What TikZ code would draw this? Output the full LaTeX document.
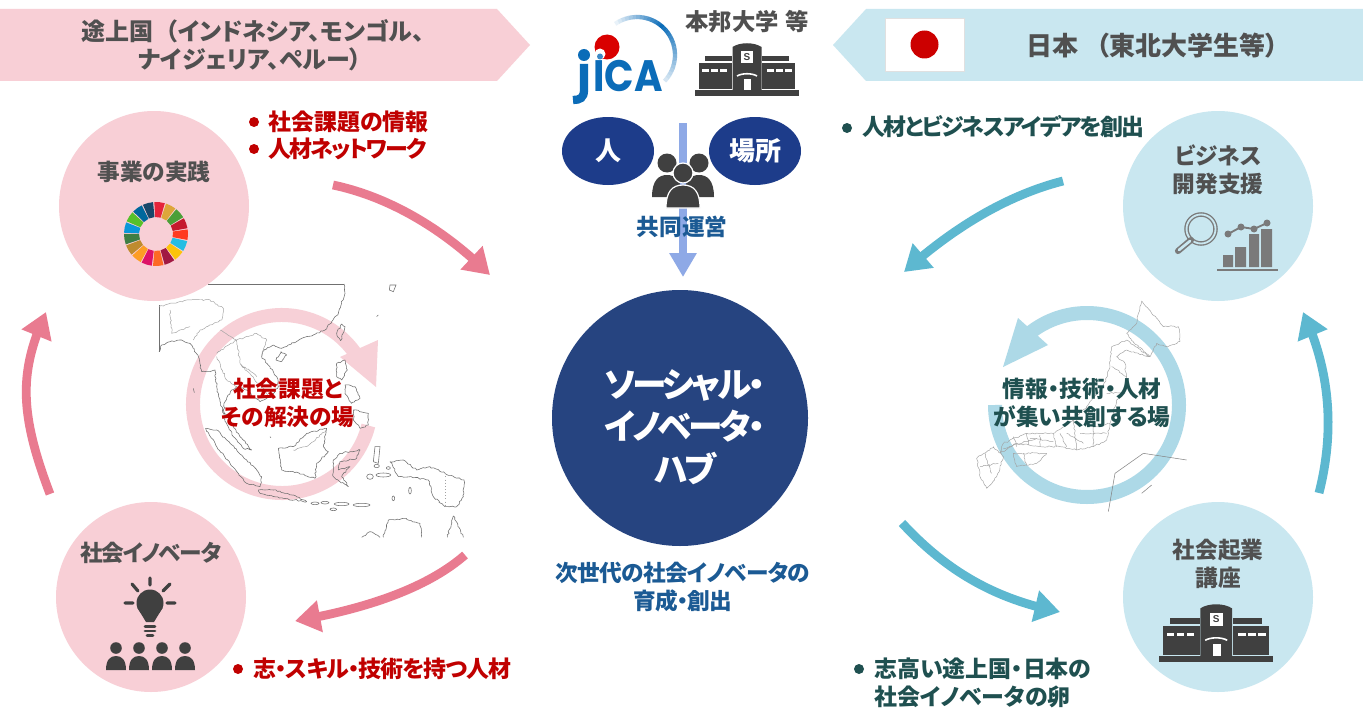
\documentclass[tikz,border=0pt]{standalone}
\usepackage{fontspec}
\setmainfont{Noto Sans CJK JP}[RawFeature={+palt}]
\newfontfamily\latn{Liberation Sans}
\newfontfamily\logof{Poppins}
\usetikzlibrary{arrows.meta,bending,shapes.geometric,decorations.pathmorphing}
\definecolor{pinkfill}{HTML}{F8CFD6}
\definecolor{bluefill}{HTML}{C9E7F0}
\definecolor{pinkarrow}{HTML}{E97B90}
\definecolor{tealarrow}{HTML}{5DB8D0}
\definecolor{pinkring}{HTML}{F7D0D7}
\definecolor{bluering}{HTML}{ADD9E7}
\definecolor{hubblue}{HTML}{264480}
\definecolor{ovalblue}{HTML}{1D3C8A}
\definecolor{downarrow}{HTML}{8EA9E6}
\definecolor{capblue}{HTML}{1B5A94}
\definecolor{redtxt}{HTML}{C00000}
\definecolor{tealtxt}{HTML}{1F5050}
\definecolor{graytxt}{HTML}{505050}
\definecolor{icon}{HTML}{404040}
\definecolor{icongray}{HTML}{7A7A7A}
\definecolor{mapline}{HTML}{707070}
\definecolor{jicablue}{HTML}{0B6CB8}
\newcommand{\tight}[1]{\addfontfeature{LetterSpace=#1}}
\tikzset{
 lab/.style={font=\fontsize{17}{21}\selectfont\bfseries,align=center,inner sep=0pt},
 big/.style={lab,font=\fontsize{18}{21}\selectfont\bfseries},
 mid/.style={lab,font=\fontsize{17.2}{21}\selectfont\bfseries,anchor=west,align=left},
 bul/.style={circle,inner sep=0pt,minimum size=7.5pt},
 curved/.style={line width=6.6pt},
 ringline/.style={line width=10.5pt},
 bigtip/.style={-{Triangle[length=19pt,width=23pt,flex]}},
 wob/.style={decorate,decoration={random steps,segment length=1.6pt,amplitude=.6pt}},
 mapst/.style={draw=mapline,line width=.42pt,line join=round,wob},
 mapfine/.style={draw=mapline!65,line width=.35pt,line join=round,wob},
 persona/.style={fill=icon,draw=white,line width=.9pt},
 campus/.pic={
  \fill[icon] (0,47.3) rectangle (104,53);
  \fill[icon] (4,20) rectangle (37,46);
  \fill[icon] (10,13) rectangle (37,18);
  \fill[icon] (67,20) rectangle (100,46);
  \fill[icon] (67,13) rectangle (94,18);
  \fill[icon] (37.5,47.3) -- (37.5,4) .. controls (45,-1) and (59,-1) .. (66.5,4) -- (66.5,47.3) -- cycle;
  \foreach \a in {7,16,25,72,81,90}{\fill[white] (\a,26) rectangle ++(7,3);}
  \fill[white] (46,8) rectangle (58,20);
  \fill[white] (49,36) rectangle (56,47.3);
  \draw[white,line width=1.2pt] (42,33) .. controls (47,30) and (57,30) .. (62,33);
  \node[icon,font=\latn\bfseries\fontsize{7.5}{8}\selectfont,inner sep=0pt] (-s) at (52,14) {S};
 }
}
\pgfmathsetseed{4242}
\begin{document}
\begin{tikzpicture}[x=0.75pt,y=-0.75pt]
\useasboundingbox (0,0) rectangle (1363,724);
\fill[white] (0,0) rectangle (1363,724);
% banners
\fill[pinkfill] (0,9) -- (497,9) -- (530,45) -- (497,81) -- (0,81) -- cycle;
\fill[bluefill] (1363,9) -- (866,9) -- (833,45) -- (866,81) -- (1363,81) -- cycle;
\node[big,graytxt] (bl) at (253,45) {途上国\hspace{9pt}（インドネシア、モンゴル、\\ナイジェリア、ペルー）\hspace*{4.5pt}};
\node[draw=black!12,fill=white,minimum width=59.25pt,minimum height=39.75pt,inner sep=0pt] (flag) at (924.5,44.5) {};
\fill[red!80!black] (flag.center) circle (14);
\node[big,graytxt,font=\fontsize{19.5}{21}\selectfont\bfseries] (br) at (1152.5,46) {日本\hspace{13pt}（東北大学生等）};

% rings
\coordinate (rl) at (282,404);
\coordinate (rr) at (1087,405);
\draw[pinkring,ringline] (rl) ++(14:89) arc[start angle=14,end angle=328,radius=89];
\fill[pinkring] (378,340) -- (340,357) -- (376,387) -- cycle;
\draw[bluering,ringline] (rr) ++(180:92) arc[start angle=180,end angle=-128,radius=92];
\fill[bluering] (1003,367) -- (1018,318) -- (1048,345) -- cycle;

% SE Asia map
\begin{scope}[shift={(40,100)},x=.25pt,y=-.25pt]
\draw[draw=mapline,line width=.42pt] (357,755) -- (357,615) (505,552) -- (912,552);
\draw[mapst] (912,552) -- (915,580) -- (905,610) -- (895,640) -- (875,665) -- (855,690) -- (820,705) -- (785,715) -- (745,735) -- (725,745) -- (700,735) -- (670,750) -- (665,770) -- (690,800) -- (710,830) -- (715,860) -- (690,890) -- (660,905) -- (640,890) -- (620,870) -- (590,860) -- (575,870) -- (555,905) -- (550,930) -- (575,970) -- (600,1010) -- (635,1050) -- (610,1045) -- (580,1010) -- (555,960) -- (540,900) -- (530,860) -- (525,810) -- (510,815) -- (485,815) -- (475,770) -- (450,730) -- (420,720) -- (390,725) -- (365,735) -- (357,755);
\draw[mapst] (723,755) -- (740,765) -- (725,785) -- (708,780) -- cycle;
\draw[mapst] (890,700) -- (905,672) -- (915,680) -- (902,722) -- cycle;
\draw[mapst] (890,790) -- (915,780) -- (922,810) -- (905,840) -- (890,830) -- cycle;
\draw[mapst] (940,930) -- (985,940) -- (985,975) -- (960,985) -- (940,960) -- cycle;
\draw[mapst] (915,855) -- (945,860) -- (960,895) -- (935,910) -- (915,880) -- cycle;
\draw[mapst] (497,985) -- (530,990) -- (570,1030) -- (620,1080) -- (650,1110) -- (665,1130) -- (660,1160) -- (620,1150) -- (570,1090) -- (530,1040) -- cycle;
\draw[mapst] (655,1170) -- (700,1170) -- (760,1185) -- (800,1205) -- (730,1195) -- (660,1180) -- cycle;
\draw[mapst] (715,1045) -- (760,1040) -- (800,1000) -- (860,985) -- (850,1040) -- (865,1055) -- (830,1090) -- (825,1135) -- (760,1115) -- (725,1110) -- cycle;
\draw[mapst] (880,1080) -- (900,1060) -- (960,1050) -- (950,1075) -- (900,1085) -- (895,1110) -- (930,1100) -- (905,1130) -- (925,1160) -- (880,1130) -- cycle;
\draw[mapst] (1050,1085) -- (1090,1080) -- (1130,1110) -- (1170,1100) -- (1215,1120) -- (1272,1140) -- (1270,1190) -- (1250,1220) -- (1215,1220) -- (1180,1190) -- (1165,1140) -- (1110,1130) -- (1075,1130) -- cycle;
\draw[draw=mapline!65,line width=.35pt,dotted] (1215,1120) -- (1215,1220);
\draw[mapst] (965,1312) -- (990,1295) -- (1020,1312) (1030,1312) -- (1045,1260) -- (1090,1255) -- (1140,1270) -- (1145,1312) (1222,1312) -- (1240,1248) -- (1270,1312);
\foreach \mpx/\mpy/\ra/\rb in {825/1210/12/4,855/1208/12/4,905/1212/22/5,965/1215/25/5,880/1228/10/4,990/1130/10/8,1030/1125/22/6,1010/1098/8/5,1060/1195/4/7,1110/1172/4/10,1045/1104/6/4}{\draw[draw=mapline,line width=.42pt] (\mpx,\mpy) ellipse [x radius=\ra,y radius=\rb];}
\draw[draw=mapline,line width=.42pt] (1050,555) -- (1068,555) -- (1060,575) -- (1048,570) -- cycle (1010,650) -- (1015,645) (1005,1040) -- (1020,1040) -- (1015,1090) -- (1000,1085) -- cycle;
\draw[draw=mapline,line width=.42pt] (460,865) -- (463,878) (690,1010) -- (693,1013);
\draw[mapfine] (357,620) -- (440,600) -- (510,600) -- (550,625) -- (545,660) -- (480,690) -- (460,720) (390,630) -- (395,700) -- (450,680);
\draw[mapfine] (530,760) -- (590,720) -- (650,700) -- (680,720) -- (665,770) (540,690) -- (590,720) -- (600,790) -- (650,830) (530,770) -- (560,840) -- (590,860) (600,790) -- (690,890);
\draw[mapfine] (760,1050) -- (800,1040) -- (860,990);
\end{scope}

% Japan map
\begin{scope}[shift={(960,100)},x=.25pt,y=-.25pt]
\draw[mapfine] (535,640) -- (545,603) -- (575,640) -- (610,680) -- (655,680) -- (660,725) -- (620,740) -- (590,730) -- (570,770) -- (520,725) -- (500,700) -- (530,670) -- cycle;
\draw[mapfine] (455,740) -- (500,720) -- (570,770) -- (500,750) -- (470,770) -- (495,790) -- (500,860) -- (470,900) -- (450,970) -- (440,1020) -- (400,1040) -- (350,1050) -- (300,1040) -- (240,1040) -- (170,1030) -- (120,1060) -- (130,1030) -- (200,1000) -- (280,1000) -- (340,960) -- (380,920) -- (430,860) -- (450,800) -- cycle;
\draw[mapfine] (50,1075) -- (100,1040) -- (130,1070) -- (110,1130) -- (80,1165) -- (60,1130) -- cycle (160,1060) -- (260,1060) -- (230,1090) -- (170,1100) -- cycle;
\draw[mapfine] (455,800) -- (500,830) (440,880) -- (495,880) (380,920) -- (400,980) -- (450,970) (340,960) -- (350,1050) (280,1000) -- (290,1040) (200,1000) -- (205,1035) (75,1060) -- (95,1120) (60,1100) -- (115,1090) (400,980) -- (400,1040) (300,1000) -- (320,1040) (160,1010) -- (170,1040) (240,1005) -- (240,1040) (360,1000) -- (440,1000) (320,1000) -- (370,1030) (210,1015) -- (280,1025) (130,1045) -- (230,1015) (190,1060) -- (200,1095);
\draw[draw=mapline!85,line width=.4pt] (445,1235) -- (465,1120) -- (550,1060) -- (680,1080) (545,1180) -- (575,1155);
\end{scope}

% circles
\node[circle,fill=pinkfill,minimum size=142.5pt,inner sep=0pt] (c1) at (154,206) {};
\node[circle,fill=pinkfill,minimum size=142.5pt,inner sep=0pt] (c2) at (151,597) {};
\node[circle,fill=bluefill,minimum size=142.5pt,inner sep=0pt] (c3) at (1218,206) {};
\node[circle,fill=bluefill,minimum size=142.5pt,inner sep=0pt] (c4) at (1218,597) {};
\node[circle,fill=hubblue,minimum size=192pt,inner sep=0pt] (hub) at (680,418) {};
\node[lab,white,font=\fontsize{26}{32}\selectfont\bfseries\tight{-9}] (hubt) at (685,427) {ソーシャル・\\イノベータ・\\ハブ};

\node[lab,graytxt] (t1) at (154,172) {事業の実践};
\node[lab,graytxt,font=\fontsize{17}{21}\selectfont\bfseries\tight{-6}] (t2) at (151,553) {社会イノベータ};
\node[lab,graytxt] (t3) at (1218,170) {ビジネス\\開発支援};
\node[lab,graytxt] (t4) at (1218,564) {社会起業\\講座};

% SDG wheel
\coordinate (sdg) at (156,234);
\foreach \sc [count=\i from 0] in {E5243B,DDA63A,4C9F38,C5192D,FF3A21,26BDE2,FCC30B,A21942,FD6925,DD1367,FD9D24,BF8B2E,3F7E44,0A97D9,56C02B,00689D,19486A}{
  \definecolor{sdgc}{HTML}{\sc}
  \pgfmathsetmacro{\sa}{-93+\i*21.176}
  \pgfmathsetmacro{\ea}{\sa+19}
  \fill[sdgc] (sdg) ++(\sa:32) arc[start angle=\sa,end angle=\ea,radius=32] -- ++(\ea+180:15) arc[start angle=\ea,end angle=\sa,radius=17] -- cycle;
}

% bulb
\coordinate (bulb) at (150,603);
\fill[icon] (bulb) circle (13.5);
\fill[icon] (137.5,608) -- (146,622) -- (154,622) -- (162.5,608) -- cycle;
\draw[icon,line width=2.2pt,line cap=round] (145,626.5) -- (155,626.5) (145,631) -- (155,631);
\draw[icon,line width=2.2pt,line cap=round] (147,635.5) -- (153,635.5);
\draw[icon,line width=2.4pt,line cap=round] (150,578) -- (150,585) (132,584) -- (138,591) (170,584) -- (163,591) (125,603) -- (133,603) (167,603) -- (175,603);
\foreach \px in {116,139,162,185}{
 \fill[icon] (\px,648) circle (5.8);
 \fill[icon] (\px-10,670) .. controls (\px-10,660) and (\px-6,656) .. (\px,656) .. controls (\px+6,656) and (\px+10,660) .. (\px+10,670) -- cycle;
}

% magnifier + chart
\draw[icongray,line width=3.4pt] (1201,229) circle (14.5);
\draw[bluefill,line width=1.4pt] (1201,229) circle (14.5);
\draw[icongray,line width=4.6pt,line cap=round] (1191,240) -- (1178,251);
\draw[bluefill,line width=2pt,line cap=round] (1190,241) -- (1179,250);
\fill[icongray] (1223,255) rectangle (1233,267) (1235,247) rectangle (1246,267) (1249,234) rectangle (1259,267) (1261,229) rectangle (1272,267);
\draw[icongray,line width=1.3pt] (1217,270) -- (1278,270);
\draw[icongray,line width=1.4pt] (1228,234) -- (1241,227) -- (1254,229) -- (1267,223);
\foreach \pp in {(1228,234),(1241,227),(1254,229),(1267,223)}{\fill[icongray] \pp circle (3.5);}

\pic (lowcampus) at (1159,604) [scale=1.1] {campus};
\pic (topcampus) at (695,43) {campus};

% JICA logo
\foreach \i in {0,...,29}{
 \pgfmathsetmacro{\sa}{-125+\i*5.6}
 \pgfmathsetmacro{\ea}{\sa+6}
 \pgfmathsetmacro{\mx}{100-abs(\i-13)*(\i>13?5.2:7)}
 \draw[jicablue!\mx!white,line width=3.2pt] (637,55) ++(\sa:38) arc[start angle=\sa,end angle=\ea,radius=38];
}
\fill[red!85!black] (607,47) circle (12.5);
\fill[white] (600,54) circle (5.5);
\fill[jicablue!80!white] (600,56.5) circle (3);
\fill[jicablue] (584,55) circle (6);
\draw[jicablue,line width=6.2pt] (584,64) -- (584,90) .. controls (584,98) and (580,100) .. (573,100);
\node[jicablue,font=\logof\bfseries\fontsize{33}{34}\selectfont,inner sep=0pt,xscale=.88,anchor=mid] (jica) at (628,88) {ICA};
\node[lab,graytxt,font=\fontsize{17.5}{21}\selectfont\bfseries] (hb) at (747,22) {本邦大学\hspace{5pt}等};

% ovals and arrow
\coordinate (d1) at (683,123);
\coordinate (d2) at (683,277);
\draw[downarrow,line width=6.4pt,-{Triangle[length=18pt,width=19.5pt]}] (d1) -- (d2);
\node[ellipse,fill=ovalblue,minimum width=69pt,minimum height=51pt,inner sep=0pt,text=white,font=\fontsize{19.5}{21}\selectfont\bfseries] (o1) at (608,151) {人};
\node[ellipse,fill=ovalblue,minimum width=69pt,minimum height=51pt,inner sep=0pt,text=white,font=\fontsize{19.5}{21}\selectfont\bfseries] (o2) at (755,151) {場所};
\foreach \px in {667,699}{
 \fill[icon] (\px,163) circle (9.5);
 \fill[icon] (\px-15,197) .. controls (\px-15,180) and (\px-8,175) .. (\px,175) .. controls (\px+8,175) and (\px+15,180) .. (\px+15,197) -- cycle;
}
\draw[persona] (683,173) circle (10);
\draw[persona] (666,208) .. controls (666,192) and (672,185) .. (683,185) .. controls (694,185) and (700,192) .. (700,208) -- cycle;
\node[lab,capblue] (ky) at (682,227) {共同運営};
\node[lab,capblue,font=\fontsize{17}{21}\selectfont\bfseries\tight{-3}] (cap) at (683,587) {次世代の社会イノベータの\\育成・創出};

% curved arrows
\coordinate (a1) at (333,185); \coordinate (a2) at (490,275);
\coordinate (b1) at (465,555); \coordinate (b2) at (295,621);
\coordinate (e1) at (50,494); \coordinate (e2) at (46,312);
\coordinate (f1) at (1063,181); \coordinate (f2) at (904,272);
\coordinate (g1) at (902,523); \coordinate (g2) at (1060,612);
\coordinate (h1) at (1319,493); \coordinate (h2) at (1303,312);
\draw[pinkarrow,curved,bigtip] (a1) .. controls (390,197) and (445,230) .. (a2);
\draw[pinkarrow,curved,bigtip] (b1) .. controls (425,590) and (360,610) .. (b2);
\draw[pinkarrow,curved,bigtip] (e1) .. controls (18,410) and (20,370) .. (e2);
\draw[tealarrow,curved,bigtip] (f1) .. controls (1000,197) and (945,235) .. (f2);
\draw[tealarrow,curved,bigtip] (g1) .. controls (950,575) and (1000,600) .. (g2);
\draw[tealarrow,curved,bigtip] (h1) .. controls (1335,430) and (1330,370) .. (h2);

% labels with bullets
\node[bul,fill=redtxt] (p1) at (254,122) {};
\node[mid,redtxt] (l1) at (268,122) {社会課題の情報};
\node[bul,fill=redtxt] (p2) at (254,149) {};
\node[mid,redtxt,font=\fontsize{17.2}{21}\selectfont\bfseries\tight{-8}] (l2) at (268,149) {人材ネットワーク};
\node[bul,fill=redtxt] (p3) at (238,669) {};
\node[mid,redtxt,font=\fontsize{17.2}{21}\selectfont\bfseries\tight{-4}] (l3) at (253,669) {志・スキル・技術を持つ人材};
\node[bul,fill=tealtxt] (p4) at (847,128) {};
\node[mid,tealtxt,font=\fontsize{17.2}{21}\selectfont\bfseries\tight{-7.5}] (l4) at (862,127) {人材とビジネスアイデアを創出};
\node[bul,fill=tealtxt] (p5) at (859,669) {};
\node[mid,tealtxt] (l5) at (874,683) {志高い途上国・日本の\\社会イノベータの卵};
\node[lab,redtxt] (m1) at (288,403) {社会課題と\\その解決の場};
\node[lab,tealtxt] (m2) at (1082,403) {情報・技術・人材\\が集い共創する場};
\end{tikzpicture}
\end{document}
